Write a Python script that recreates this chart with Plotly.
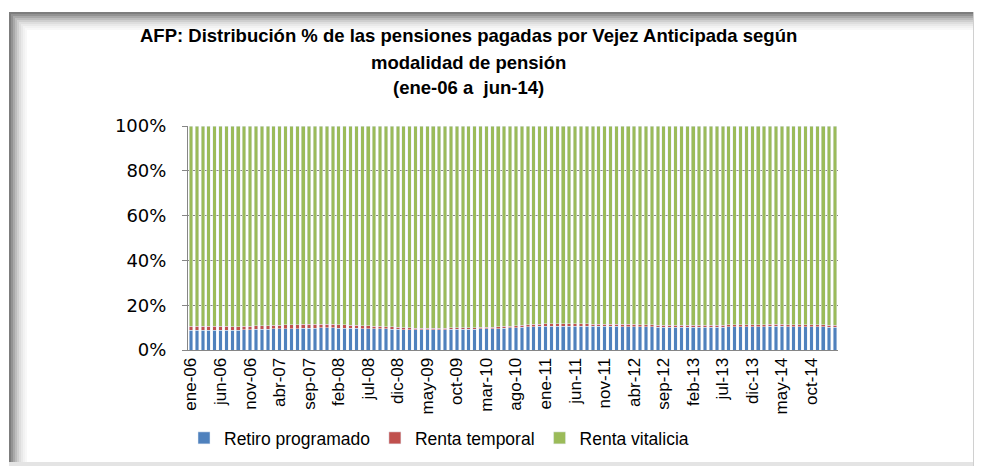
import plotly.graph_objects as go

meses = ["ene", "feb", "mar", "abr", "may", "jun", "jul", "ago", "sep", "oct", "nov", "dic"]
anios = ["06", "07", "08", "09", "10", "11", "12", "13", "14", "15"]
categorias = [f"{m}-{a}" for a in anios for m in meses][:110]

retiro_programado = [
    8.9, 8.9, 8.8, 8.9, 8.9, 8.8, 8.9, 8.8, 8.8, 9.0, 9.1, 9.2,
    9.3, 9.3, 9.4, 9.4, 9.5, 9.6, 9.6, 9.7, 9.8, 9.8, 9.9, 9.9,
    9.9, 9.8, 9.8, 9.7, 9.7, 9.6, 9.6, 9.5, 9.5, 9.4, 9.3, 9.2,
    9.1, 9.1, 9.0, 9.0, 9.0, 9.1, 9.1, 9.1, 9.2, 9.2, 9.2, 9.3,
    9.3, 9.4, 9.4, 9.5, 9.6, 9.7, 9.9, 10.0, 10.2, 10.3, 10.4, 10.5,
    10.6, 10.6, 10.7, 10.7, 10.7, 10.7, 10.6, 10.6, 10.6, 10.5, 10.5, 10.5,
    10.5, 10.4, 10.4, 10.4, 10.3, 10.3, 10.3, 10.2, 10.2, 10.2, 10.2, 10.1,
    10.1, 10.1, 10.1, 10.2, 10.2, 10.2, 10.2, 10.3, 10.3, 10.3, 10.3, 10.4,
    10.4, 10.4, 10.5, 10.5, 10.5, 10.4, 10.4, 10.4, 10.3, 10.3, 10.3, 10.3,
    10.2, 10.2,
]

renta_temporal = [
    1.6, 1.6, 1.7, 1.6, 1.6, 1.7, 1.6, 1.6, 1.6, 1.6, 1.6, 1.6,
    1.6, 1.6, 1.6, 1.7, 1.7, 1.7, 1.7, 1.7, 1.6, 1.6, 1.6, 1.6,
    1.6, 1.5, 1.5, 1.4, 1.4, 1.3, 1.3, 1.2, 1.1, 1.0, 1.0, 0.9,
    0.8, 0.8, 0.7, 0.7, 0.7, 0.7, 0.7, 0.7, 0.7, 0.7, 0.7, 0.7,
    0.7, 0.7, 0.7, 0.7, 0.8, 0.8, 0.8, 0.8, 0.9, 0.9, 1.0, 1.0,
    1.1, 1.1, 1.1, 1.1, 1.1, 1.1, 1.1, 1.1, 1.0, 1.0, 1.0, 1.0,
    1.0, 1.0, 1.0, 1.0, 1.0, 1.0, 0.9, 0.9, 0.9, 0.9, 0.9, 0.9,
    0.9, 0.9, 0.9, 0.9, 0.9, 0.9, 0.9, 0.9, 0.9, 0.9, 0.9, 0.9,
    0.9, 0.9, 0.9, 0.9, 0.9, 0.9, 0.9, 0.9, 0.9, 0.9, 0.9, 0.9,
    0.9, 0.9,
]

renta_vitalicia = [
    89.5, 89.5, 89.5, 89.5, 89.5, 89.5, 89.5, 89.6, 89.6, 89.4, 89.3, 89.2,
    89.1, 89.1, 89.0, 88.9, 88.8, 88.7, 88.7, 88.6, 88.6, 88.6, 88.5, 88.5,
    88.5, 88.7, 88.7, 88.9, 88.9, 89.1, 89.1, 89.3, 89.4, 89.6, 89.7, 89.9,
    90.1, 90.1, 90.3, 90.3, 90.3, 90.2, 90.2, 90.2, 90.1, 90.1, 90.1, 90.0,
    90.0, 89.9, 89.9, 89.8, 89.6, 89.5, 89.3, 89.2, 88.9, 88.8, 88.6, 88.5,
    88.3, 88.3, 88.2, 88.2, 88.2, 88.2, 88.3, 88.3, 88.4, 88.5, 88.5, 88.5,
    88.5, 88.6, 88.6, 88.6, 88.7, 88.7, 88.8, 88.9, 88.9, 88.9, 88.9, 89.0,
    89.0, 89.0, 89.0, 88.9, 88.9, 88.9, 88.9, 88.8, 88.8, 88.8, 88.8, 88.7,
    88.7, 88.7, 88.6, 88.6, 88.6, 88.7, 88.7, 88.7, 88.8, 88.8, 88.8, 88.8,
    88.9, 88.9,
]

titulo = [
    "AFP: Distribución % de las pensiones pagadas por Vejez Anticipada según",
    "modalidad de pensión",
    "(ene-06 a  jun-14)",
]
etiquetas_x = categorias[::5]
ticks_y = [0, 20, 40, 60, 80, 100]
etiquetas_y = ["0%", "20%", "40%", "60%", "80%", "100%"]

# the page body has an 8px margin: the figure is drawn 8px right/down
OFF = 8
W, H = 982 - OFF, 470 - OFF

def px(x):
    return (x - OFF) / W

def py(y):
    return 1 - (y - OFF) / H

fig = go.Figure()
fig.add_bar(x=categorias, y=retiro_programado, name="Retiro programado", marker_color="#4F81BD")
fig.add_bar(x=categorias, y=renta_temporal, name="Renta temporal", marker_color="#C0504D")
fig.add_bar(x=categorias, y=renta_vitalicia, name="Renta vitalicia", marker_color="#9BBB59")

# frame with soft shadow on top/left
shapes = []
grises = ["#7d7d7d", "#939393", "#a9a9a9", "#bdbdbd", "#cfcfcf", "#dedede", "#e9e9e9", "#f2f2f2", "#f8f8f8"]
for i, c in enumerate(grises):
    shapes.append(dict(type="rect", xref="paper", yref="paper", layer="below",
                       x0=px(9 + 2 * i), x1=px(976), y0=py(14 + 2 * i), y1=py(12 + 2 * i),
                       line=dict(width=0), fillcolor=c))
    shapes.append(dict(type="rect", xref="paper", yref="paper", layer="below",
                       x0=px(9 + 2 * i), x1=px(11 + 2 * i), y0=py(466), y1=py(12 + 2 * i),
                       line=dict(width=0), fillcolor=c))
shapes.append(dict(type="rect", xref="paper", yref="paper", layer="below",
                   x0=px(9), x1=px(976), y0=py(466), y1=py(462),
                   line=dict(width=0), fillcolor="#e4e4e4"))
shapes.append(dict(type="rect", xref="paper", yref="paper", layer="below",
                   x0=px(973), x1=px(976), y0=py(466), y1=py(12),
                   line=dict(width=0), fillcolor="#d0d0d0"))

annotations = []
for txt, yc in zip(titulo, [36, 62, 87]):
    annotations.append(dict(text=f"<b>{txt}</b>", xref="paper", yref="paper",
                            x=px(468), y=py(yc), xanchor="center", yanchor="middle",
                            showarrow=False,
                            font=dict(family="Liberation Sans, Arial, sans-serif", size=18.5, color="black")))

fig.update_layout(
    barmode="stack",
    barnorm="percent",
    bargap=0.4,
    width=W,
    height=H,
    margin=dict(l=0, r=0, t=0, b=0),
    paper_bgcolor="white",
    plot_bgcolor="white",
    font=dict(family="Liberation Sans, Arial, sans-serif", color="black"),
    showlegend=True,
    legend=dict(
        orientation="h", x=px(184), xanchor="left", y=py(438), yanchor="middle",
        font=dict(family="Liberation Sans, Arial, sans-serif", size=17.5, color="black"),
        traceorder="normal", itemwidth=30, bgcolor="rgba(0,0,0,0)",
    ),
    xaxis=dict(
        domain=[px(188), px(838)],
        type="category",
        tickmode="array", tickvals=etiquetas_x, ticktext=etiquetas_x,
        tickangle=-90, tickfont=dict(size=17),
        showline=True, linecolor="#868686", linewidth=1,
        ticks="", showgrid=False, automargin=False,
    ),
    yaxis=dict(
        domain=[py(350), py(126)],
        range=[0, 100], tickvals=ticks_y, ticktext=etiquetas_y,
        tickfont=dict(family="DejaVu Sans, sans-serif", size=18),
        showline=True, linecolor="#868686", linewidth=1,
        ticks="outside", ticklen=5, tickcolor="#868686",
        ticklabelstandoff=12,
        showgrid=True, gridcolor="#868686", gridwidth=1,
        zeroline=False, automargin=False,
    ),
    shapes=shapes,
    annotations=annotations,
)

fig.write_html("out.html")
